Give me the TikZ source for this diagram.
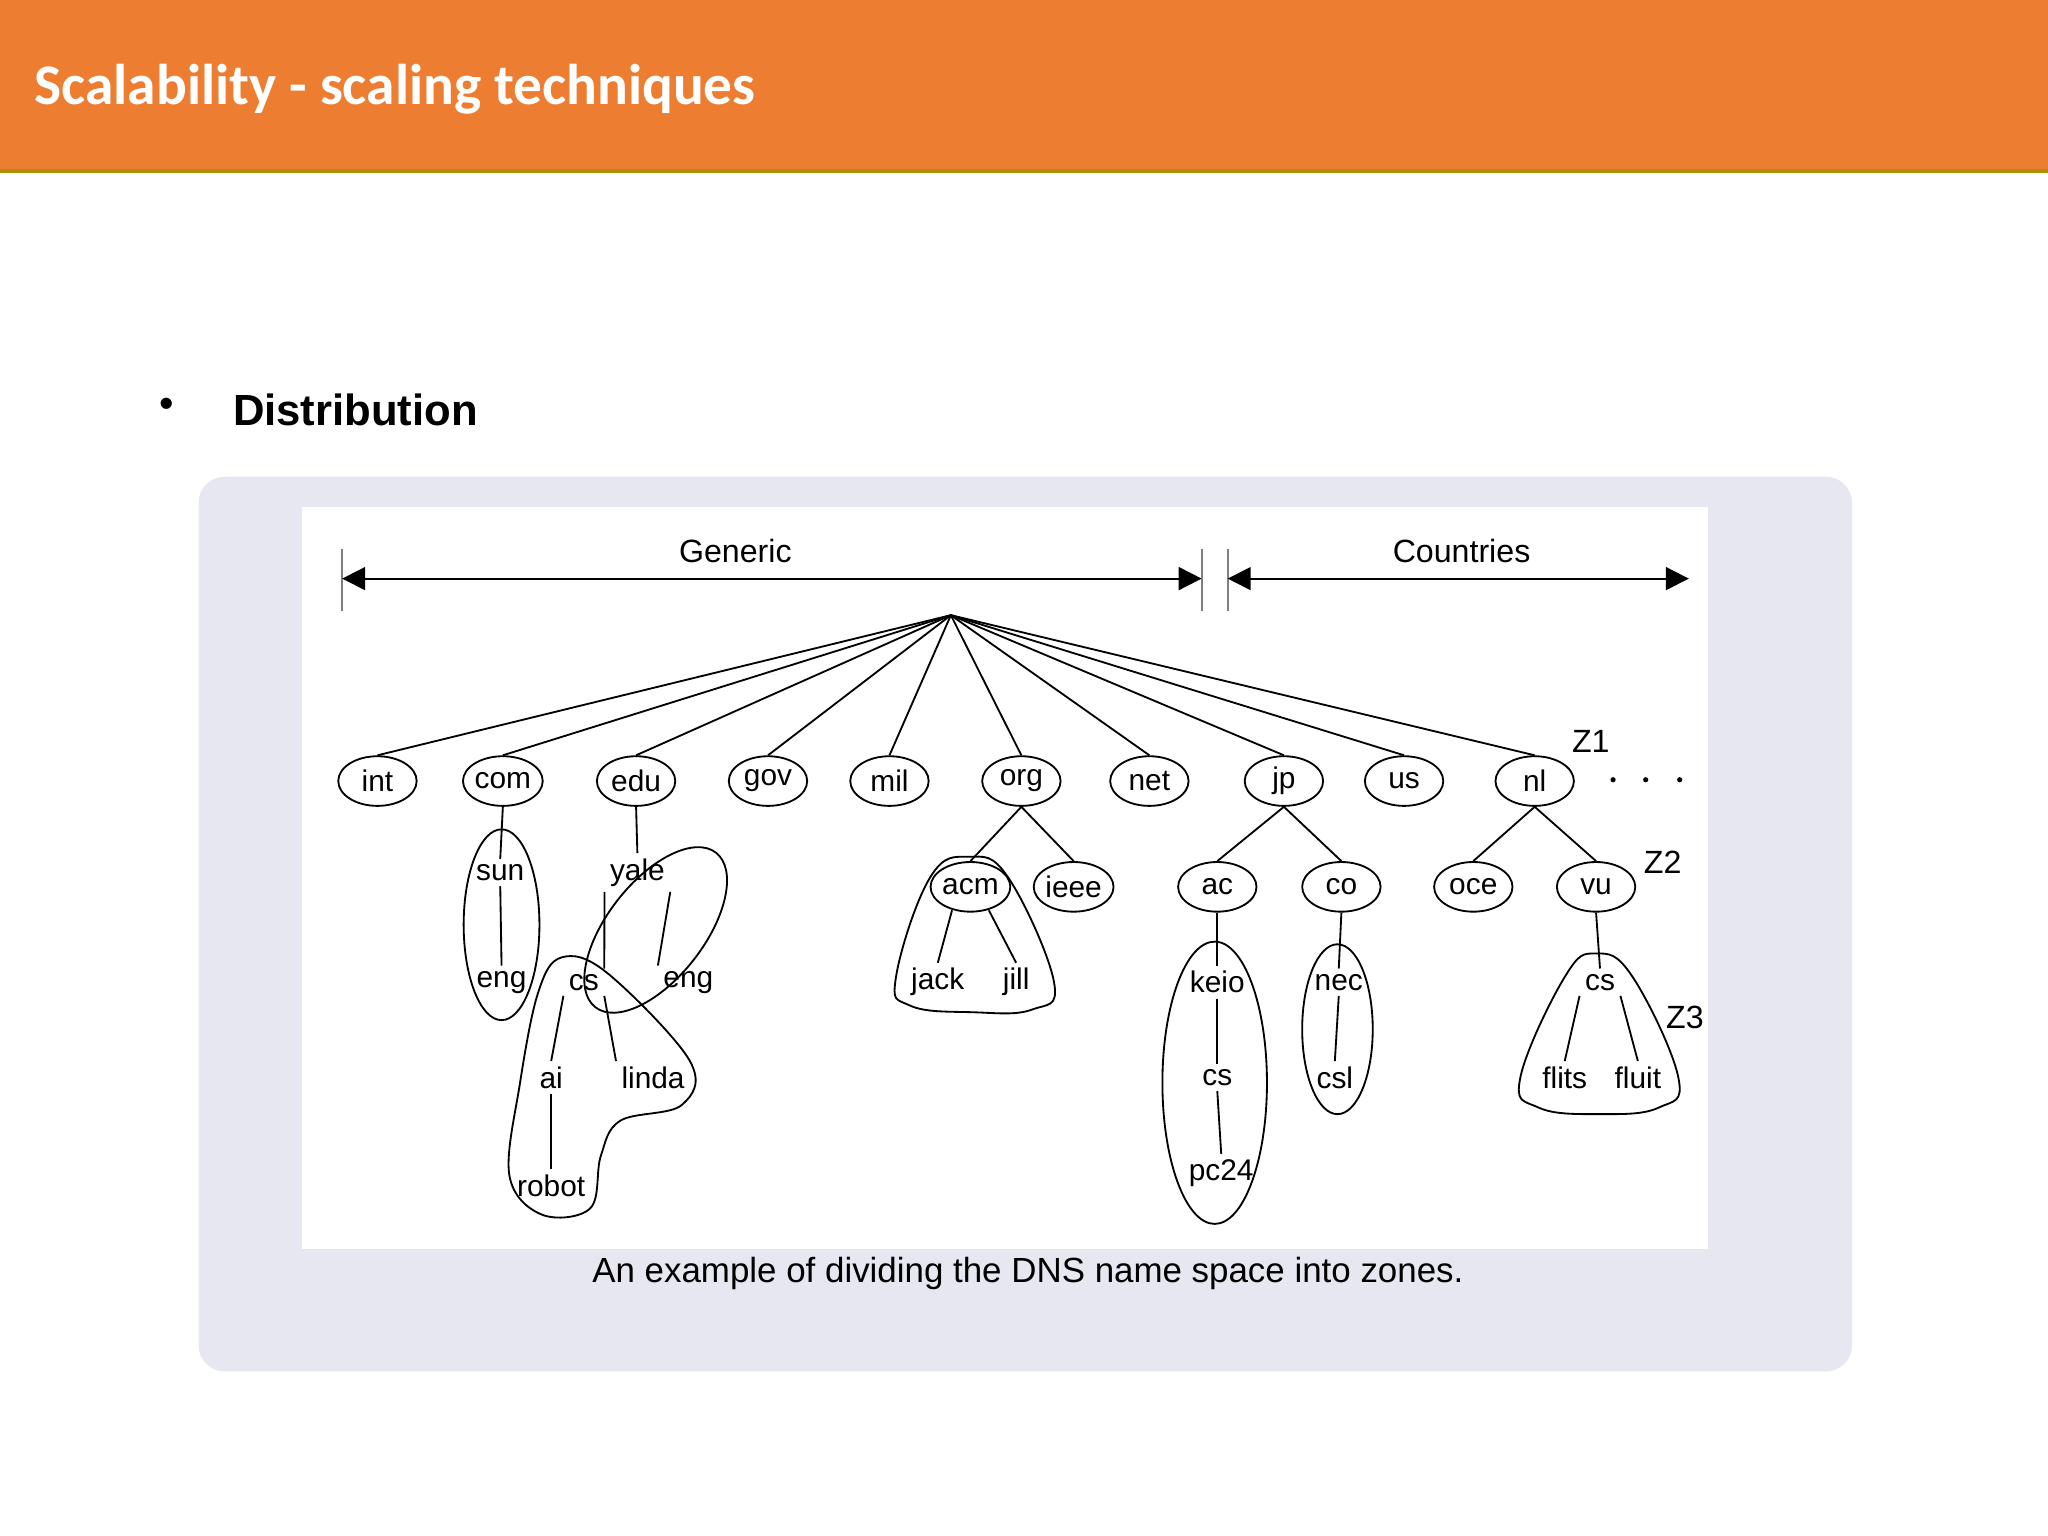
\documentclass[tikz,border=0pt]{standalone}
\usepackage{fontspec}
\setmainfont{Liberation Sans}
\newfontfamily\titlefont{Carlito}
\usetikzlibrary{arrows.meta,shapes.geometric}
\definecolor{orangebar}{HTML}{ED7D31}
\definecolor{panelgray}{HTML}{E6E7F0}
\begin{document}
\begin{tikzpicture}[x=0.01cm,y=-0.01cm,
  dom/.style={ellipse,draw,thin,minimum width=0.6cm,minimum height=0.38cm,inner sep=0pt,font=\fontsize{6.5}{7}\selectfont},
  lbl/.style={inner sep=1pt,font=\fontsize{6.5}{7}\selectfont},
  edge/.style={draw,thin},
  zone/.style={draw,thin}]
\useasboundingbox (0,0) rectangle (1568,1176);
\fill[orangebar] (0,0) rectangle (1568,131);
\draw[olive!70!orange,line width=0.8pt] (0,131) -- (1568,131);
\node[anchor=west,text=white,font=\titlefont\bfseries\fontsize{12.5}{14}\selectfont] (title) at (14,68) {Scalability - scaling techniques};
\node[font=\fontsize{9}{10}\selectfont] (bul) at (128,312) {•};
\node[anchor=west,font=\bfseries\fontsize{9.5}{11}\selectfont] (dist) at (166,314) {Distribution};
\fill[panelgray,rounded corners=0.2cm] (152,365) rectangle (1418,1050);
\fill[white] (231,388) rectangle (1308,956);
\node[font=\fontsize{7.6}{9}\selectfont] (cap) at (787,975) {An example of dividing the DNS name space into zones.};
% header arrows
\coordinate (gL) at (262,443); \coordinate (gR) at (920,443);
\coordinate (cL) at (940,443); \coordinate (cR) at (1293,443);
\draw[thin,gray] (262,420) -- (262,468);
\draw[thin,gray] (920,420) -- (920,468);
\draw[thin,gray] (940,420) -- (940,468);
\draw[thin,{Triangle[length=5pt,width=5pt]}-{Triangle[length=5pt,width=5pt]}] (gL) -- (gR);
\draw[thin,{Triangle[length=5pt,width=5pt]}-{Triangle[length=5pt,width=5pt]}] (cL) -- (cR);
\node[lbl,font=\fontsize{7}{8}\selectfont] (gen) at (563,422) {Generic};
\node[lbl,font=\fontsize{7}{8}\selectfont] (cty) at (1119,422) {Countries};
% root
\coordinate (root) at (728,471);
\foreach \n/\x in {int/289,com/385,edu/487,gov/588,mil/681,org/782,net/880,jp/983,us/1075,nl/1175}{
  \node[dom] (\n) at (\x,598) {\n};
  \draw[edge] (root) -- (\n.north);
}
\foreach \x in {1235,1260,1286}{\fill (\x,597) circle (0.02cm);}
\node[lbl,font=\fontsize{7}{8}\selectfont] (z1) at (1218,568) {Z1};
\node[lbl,font=\fontsize{7}{8}\selectfont] (z2) at (1273,660) {Z2};
\node[lbl,font=\fontsize{7}{8}\selectfont] (z3) at (1290,779) {Z3};
% level 2
\node[dom] (acm) at (743,679) {acm};
\node[dom] (ieee) at (822,679) {ieee};
\node[dom] (ac) at (932,679) {ac};
\node[dom] (co) at (1027,679) {co};
\node[dom] (oce) at (1128,679) {oce};
\node[dom] (vu) at (1222,679) {vu};
\foreach \a/\b in {org/acm,org/ieee,jp/ac,jp/co,nl/oce,nl/vu}{\draw[edge] (\a.south) -- (\b.north);}
% com subtree
\node[lbl] (sun) at (383,668) {sun};
\node[lbl] (ceng) at (384,752) {eng};
\draw[edge] (com.south) -- (sun.north);
\draw[edge] (sun.south) -- (ceng.north);
\draw[zone] (384,708) ellipse (0.29cm and 0.73cm);
% edu subtree
\node[lbl] (yale) at (488,668) {yale};
\node[lbl] (yeng) at (527,752) {eng};
\node[lbl] (ycs) at (447,752) {cs};
\node[lbl] (ai) at (422,825) {ai};
\node[lbl] (linda) at (500,825) {linda};
\node[lbl] (robot) at (422,908) {robot};
\draw[edge] (edu.south) -- (yale.north);
\draw[edge] (yale.south west) -- (ycs.north east);
\draw[edge] (yale.south east) -- (yeng.north west);
\draw[edge] (ycs.south west) -- (ai.north);
\draw[edge] (ycs.south east) -- (linda.north west);
\draw[edge] (ai.south) -- (robot.north);
\draw[zone,rotate around={-38:(502,712)}] (502,712) ellipse (0.37cm and 0.75cm);
\draw[zone] plot[smooth cycle,tension=0.6] coordinates {(430,733) (465,745) (528,812) (522,846) (475,858) (460,885) (452,925) (415,930) (390,900) (398,830) (412,760)};
% org subtree
\node[lbl] (jack) at (718,752) {jack};
\node[lbl] (jill) at (778,752) {jill};
\draw[edge] (acm.south west) ++(8,4) -- (jack.north);
\draw[edge] (acm.south east) ++(-8,4) -- (jill.north);
\draw[zone] plot[smooth cycle,tension=0.7] coordinates {(742,656) (772,672) (807,752) (790,773) (745,775) (697,770) (686,748) (712,672)};
% jp subtree
\node[lbl] (keio) at (932,752) {keio};
\node[lbl] (jcs) at (932,825) {cs};
\node[lbl] (pc24) at (935,898) {pc24};
\node[lbl] (nec) at (1025,752) {nec};
\node[lbl] (csl) at (1022,825) {csl};
\draw[edge] (ac.south) -- (keio.north);
\draw[edge] (keio.south) -- (jcs.north);
\draw[edge] (jcs.south) -- (pc24.north);
\draw[edge] (co.south) -- (nec.north);
\draw[edge] (nec.south) -- (csl.north);
\draw[zone] (930,829) ellipse (0.4cm and 1.08cm);
\draw[zone] (1024,788) ellipse (0.27cm and 0.65cm);
% nl subtree
\node[lbl] (vcs) at (1225,752) {cs};
\node[lbl] (flits) at (1198,825) {flits};
\node[lbl] (fluit) at (1254,825) {fluit};
\draw[edge] (vu.south) -- (vcs.north);
\draw[edge] (vcs.south west) -- (flits.north);
\draw[edge] (vcs.south east) -- (fluit.north);
\draw[zone] plot[smooth cycle,tension=0.7] coordinates {(1222,730) (1250,748) (1285,825) (1270,848) (1225,853) (1178,848) (1164,825) (1198,748)};
\end{tikzpicture}
\end{document}
